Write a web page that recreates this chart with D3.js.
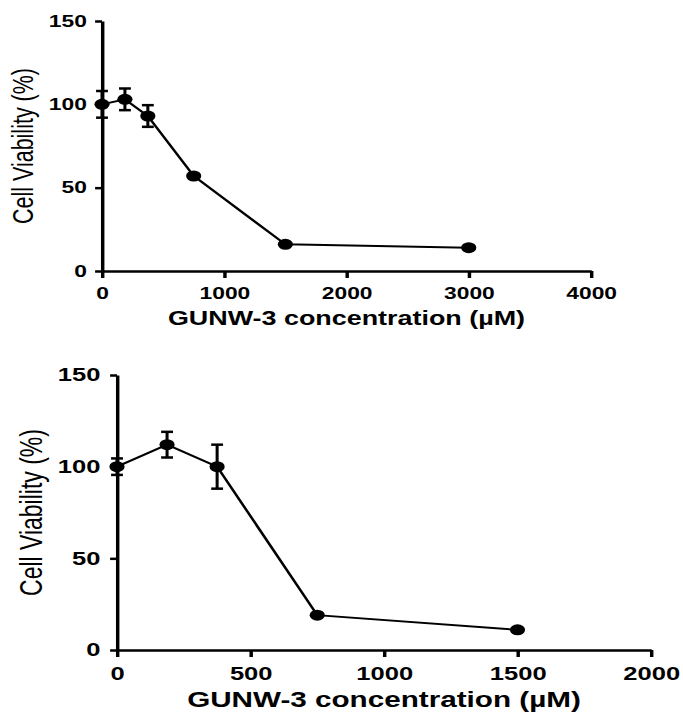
<!DOCTYPE html>
<html>
<head>
<meta charset="utf-8">
<script src="https://cdn.jsdelivr.net/npm/d3@7"></script>
<style>
  body { margin: 0; background: #fff; }
  svg text { font-family: "Liberation Sans", Arial, sans-serif; fill: #000; }
</style>
</head>
<body>
<svg id="fig" width="683" height="717"></svg>
<script>
// data
var conc1 = [0, 187.5, 375, 750, 1500, 3000];
var via1 = [100, 103, 93, 57, 16, 14];
var err1 = [8, 6.5, 6.5, 1, 1, 1];
var xTicks1 = [0, 1000, 2000, 3000, 4000];

var conc2 = [0, 187.5, 375, 750, 1500];
var via2 = [100, 112, 100, 19, 11];
var err2 = [4.5, 7, 12, 1, 1];
var xTicks2 = [0, 500, 1000, 1500, 2000];

var yTicks = [0, 50, 100, 150];
var xTitle = "GUNW-3 concentration (µM)";
var yTitle = "Cell Viability (%)";

// the original figure is stretched sideways, so draw in a squeezed space and scale x back up
var S = 1.38;
var svg = d3.select("#fig");
var root = svg.append("g").attr("transform", "scale(" + S + ",1)");

function drawPanel(cfg) {
    var x = d3.scaleLinear().domain([0, cfg.xMax]).range([cfg.left / S, cfg.right / S]);
    var y = d3.scaleLinear().domain([0, 150]).range([cfg.bottom, cfg.top]);
    var g = root.append("g");

    // axes
    var xa = g.append("g").attr("transform", "translate(0," + cfg.bottom + ")")
        .call(d3.axisBottom(x).tickValues(cfg.xTicks).tickFormat(d3.format("d"))
            .tickSize(7).tickSizeOuter(0).tickPadding(cfg.xPad));
    var ya = g.append("g").attr("transform", "translate(" + (cfg.left / S) + ",0)")
        .call(d3.axisLeft(y).tickValues(yTicks).tickFormat(d3.format("d"))
            .tickSize(5).tickSizeOuter(0).tickPadding(cfg.yPad));
    [xa, ya].forEach(function (a) {
        a.select(".domain").attr("stroke", "#000").attr("stroke-width", 2.5);
        a.selectAll(".tick line").attr("stroke", "#000").attr("stroke-width", 2.5);
        a.selectAll(".tick text").attr("font-size", cfg.tickFont).attr("font-weight", "bold")
            .attr("fill", "#000");
    });

    // connecting line
    var line = d3.line().x(function (d) { return x(d[0]); }).y(function (d) { return y(d[1]); });
    var pts = d3.zip(cfg.conc, cfg.via, cfg.err);
    g.append("path").datum(pts).attr("d", line)
        .attr("fill", "none").attr("stroke", "#000").attr("stroke-width", 2);

    // error bars
    var eb = g.selectAll(".eb").data(pts).enter().append("g").attr("class", "eb");
    eb.append("line")
        .attr("x1", function (d) { return x(d[0]); }).attr("x2", function (d) { return x(d[0]); })
        .attr("y1", function (d) { return y(d[1] + d[2]); }).attr("y2", function (d) { return y(d[1] - d[2]); })
        .attr("stroke", "#000").attr("stroke-width", 2.2);
    [1, -1].forEach(function (s) {
        eb.append("line")
            .attr("x1", function (d) { return x(d[0]) - 4.3; }).attr("x2", function (d) { return x(d[0]) + 4.3; })
            .attr("y1", function (d) { return y(d[1] + s * d[2]); }).attr("y2", function (d) { return y(d[1] + s * d[2]); })
            .attr("stroke", "#000").attr("stroke-width", 2.5);
    });

    // markers
    g.selectAll(".pt").data(pts).enter().append("circle").attr("class", "pt")
        .attr("cx", function (d) { return x(d[0]); })
        .attr("cy", function (d) { return y(d[1]); })
        .attr("r", 5.5).attr("fill", "#000");

    // titles
    g.append("text")
        .attr("x", (x.range()[0] + x.range()[1]) / 2).attr("y", cfg.xTitleY)
        .attr("text-anchor", "middle").attr("font-weight", "bold")
        .attr("font-size", cfg.xTitleFont).text(xTitle);
    g.append("text")
        .attr("transform", "translate(" + (cfg.yTitleX / S) + "," + ((cfg.top + cfg.bottom) / 2) + ") rotate(-90)")
        .attr("text-anchor", "middle").attr("font-size", cfg.yTitleFont).text(yTitle);
}

drawPanel({
    conc: conc1, via: via1, err: err1, xTicks: xTicks1, xMax: 4000,
    left: 102, right: 591, top: 21, bottom: 271,
    xPad: 9, yPad: 6, tickFont: 16.5,
    xTitleY: 325, xTitleFont: 19.5, yTitleX: 33, yTitleFont: 21.5
});

drawPanel({
    conc: conc2, via: via2, err: err2, xTicks: xTicks2, xMax: 2000,
    left: 117, right: 651, top: 375, bottom: 650,
    xPad: 10, yPad: 7, tickFont: 18.5,
    xTitleY: 707, xTitleFont: 21.5, yTitleX: 41.5, yTitleFont: 23
});
</script>
</body>
</html>
